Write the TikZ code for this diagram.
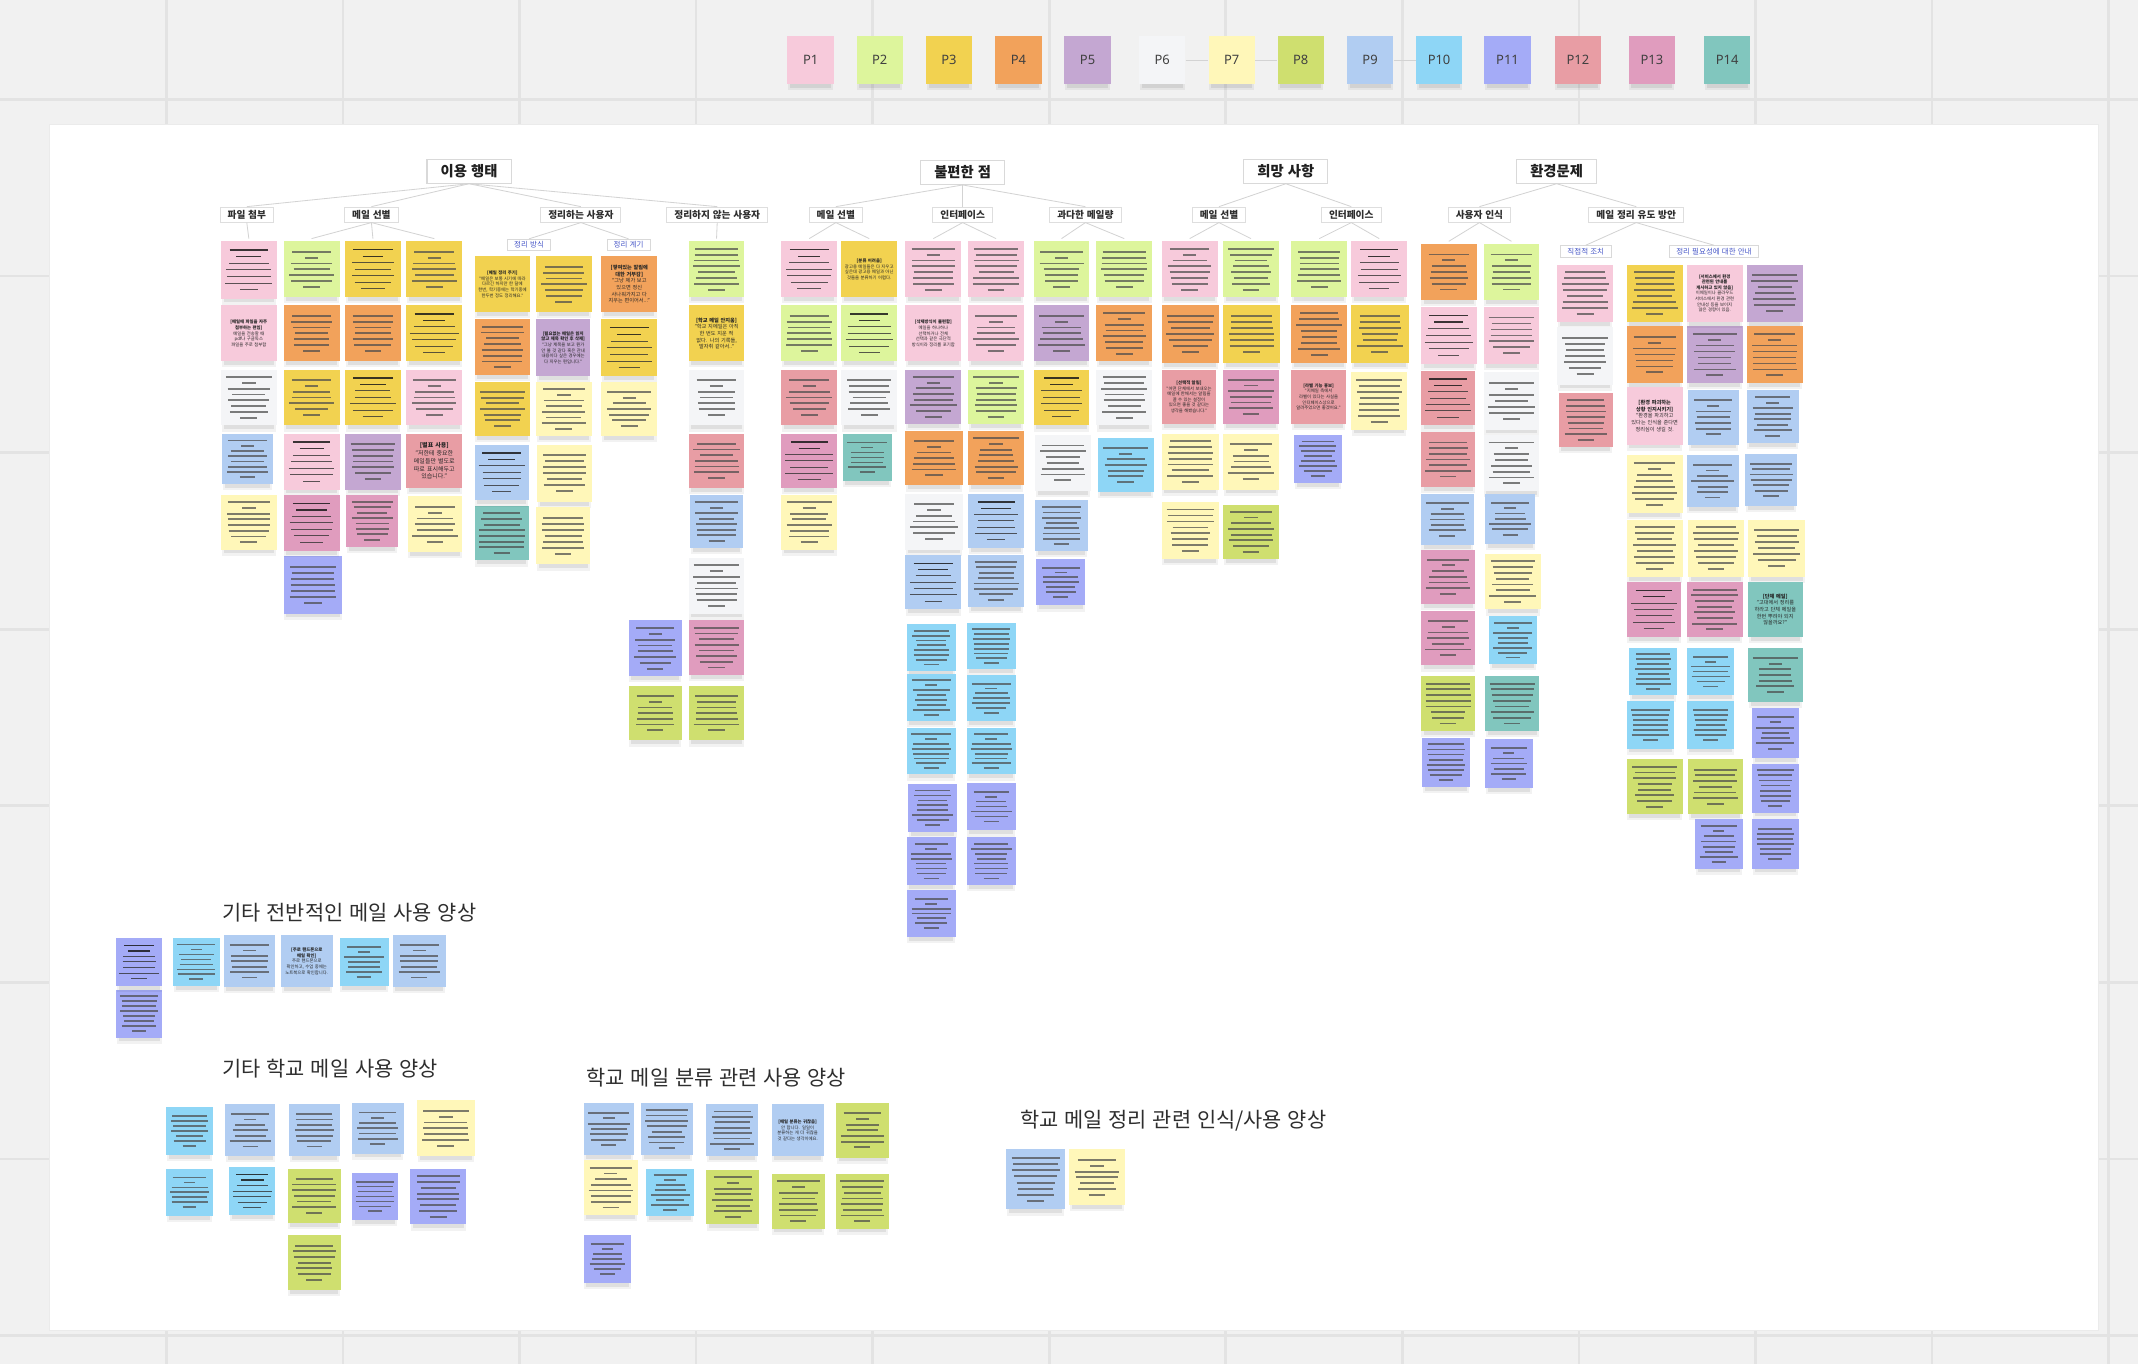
\documentclass[tikz,border=0pt]{standalone}
\usepackage{fontspec}
\setmainfont[WordSpace=1.25]{Noto Sans CJK KR}
\newfontfamily\latinsans{Noto Sans}
\usetikzlibrary{calc}

% canvas and sticky-note palette
\definecolor{boardbg}{HTML}{F1F1F1}
\definecolor{gridc}{HTML}{E3E3E3}
\definecolor{linkc}{HTML}{D3D3D3}
\definecolor{labelblue}{HTML}{4656C8}
\definecolor{c1}{HTML}{F7CADB}
\definecolor{c2}{HTML}{DDF59C}
\definecolor{c3}{HTML}{F2D250}
\definecolor{c4}{HTML}{F2A25B}
\definecolor{c5}{HTML}{C4A7D2}
\definecolor{c6}{HTML}{F4F5F7}
\definecolor{c7}{HTML}{FFF7B9}
\definecolor{c8}{HTML}{CFDF6F}
\definecolor{c9}{HTML}{B1CDF2}
\definecolor{c10}{HTML}{8ED6F6}
\definecolor{c11}{HTML}{A4ABF7}
\definecolor{c12}{HTML}{E89DA4}
\definecolor{c13}{HTML}{E09CBE}
\definecolor{c14}{HTML}{81C6BE}

\newcounter{notec}
\newcommand\notefontS{\fontsize{3.2}{4.1}\selectfont}
\newcommand\notefontM{\fontsize{3.8}{4.9}\selectfont}
\newcommand\notefontL{\fontsize{4.4}{5.8}\selectfont}

% soft shadow under a note: x y w h (top-left corner, size)
\newcommand\noteshadow[4]{%
  \fill[black,opacity=0.05] ({#1+0.5},{#2+#4-2}) rectangle ({#1+#3-0.5},{#2+#4+4.5});%
  \fill[black,opacity=0.08] ({#1+2},{#2+#4-1}) rectangle ({#1+#3-2},{#2+#4+2.8});%
}
% plain note body
\newcommand\notebase[5]{%
  \noteshadow{#1}{#2}{#3}{#4}%
  \stepcounter{notec}%
  \node[sticky, fill=#5, minimum width=#3pt, minimum height=#4pt] (note\arabic{notec}) at (#1,#2) {};%
}
% note with collapsed text shown as grey bars
\newcommand\barnote[5]{%
  \notebase{#1}{#2}{#3}{#4}{#5}%
  \pgfmathsetmacro\nlines{int(7+round(rnd))}%
  \pgfmathsetmacro\lgap{#4/9.6}%
  \foreach \i in {1,...,\nlines}{%
    \pgfmathsetmacro\rr{rnd}%
    \pgfmathsetmacro\ff{(\i==1) ? (0.68+0.15*\rr) : ((\i==\nlines) ? 0.3 : (((\i==2) && (\rr<0.45)) ? 0.24 : (0.58+0.26*\rr)))}%
    \pgfmathsetmacro\yy{#2+#4/2+(\i-(\nlines+1)/2)*\lgap}%
    \draw[barline] ({#1+#3/2-\ff*#3/2},\yy) -- ({#1+#3/2+\ff*#3/2},\yy);%
  }%
}
% note with fine print too small to read
\newcommand\fakenote[5]{%
  \notebase{#1}{#2}{#3}{#4}{#5}%
  \pgfmathsetmacro\lgap{#4/8.6}%
  \foreach \i in {1,...,7}{%
    \pgfmathsetmacro\rr{rnd}%
    \pgfmathsetmacro\ff{(\i==1) ? (0.62+0.1*\rr) : ((\i==2) ? (0.35+0.2*\rr) : ((\i==7) ? (0.3+0.15*\rr) : (0.62+0.25*\rr)))}%
    \pgfmathsetmacro\yy{#2+#4/2+(\i-4)*\lgap}%
    \ifnum\i<3
      \draw[titleline] ({#1+#3/2-\ff*#3/2},\yy) -- ({#1+#3/2+\ff*#3/2},\yy);%
    \else
      \draw[txtline] ({#1+#3/2-\ff*#3/2},\yy) -- ({#1+#3/2+\ff*#3/2},\yy);%
    \fi
  }%
}
% note with legible text
\newcommand\txtnote[7]{%
  \notebase{#1}{#2}{#3}{#4}{#5}%
  \pgfmathsetmacro\tw{#3-5}%
  \node[notetext, text width=\tw pt, font=#6] (notetext\arabic{notec}) at ({#1+#3/2},{#2+#4/2}) {#7};%
}

\begin{document}
\begin{tikzpicture}[x=1pt,y=-1pt,
  sticky/.style={inner sep=0pt, outer sep=0pt, anchor=north west, draw=none},
  barline/.style={line width=1.35pt, draw=black!70, opacity=0.72},
  txtline/.style={line width=0.7pt, draw=black!80, opacity=0.8},
  titleline/.style={line width=1.0pt, draw=black!90, opacity=0.85},
  notetext/.style={inner sep=0pt, align=center, text=black!85},
  gridline/.style={draw=gridc, line width=2pt},
  link/.style={draw=linkc, line width=0.6pt},
  mainhead/.style={draw=black!15, fill=white, line width=0.8pt, font=\bfseries\fontsize{10.5}{12}\selectfont, inner xsep=10pt, inner ysep=0pt, minimum height=17.5pt, text=black!88},
  subhead/.style={draw=black!13, fill=white, line width=0.7pt, font=\bfseries\fontsize{7.1}{8.5}\selectfont, inner xsep=5.5pt, inner ysep=0pt, minimum height=11pt, text=black!82},
  bluelabel/.style={draw=black!15, fill=white, line width=0.6pt, font=\fontsize{5.5}{6.5}\selectfont, inner xsep=5pt, inner ysep=0pt, minimum height=8.3pt, text=labelblue},
  secttitle/.style={font=\fontsize{15.3}{17}\selectfont, text=black!82, anchor=west, inner sep=0pt},
  legendnote/.style={inner sep=0pt, minimum width=34pt, minimum height=35pt, font=\latinsans\fontsize{9.5}{10}\selectfont, text=black!75}]
\pgfmathsetseed{11}
\useasboundingbox (0,0) rectangle (1568,1000);

% grey canvas with grid
\fill[boardbg] (0,0) rectangle (1568,1000);
\foreach \gx in {122,251.5,381,510.5,640,769.5,899,1028.5,1158,1287.5,1417,1546.5}
  \draw[gridline] (\gx,0) -- (\gx,1000);
\foreach \gy in {73,202.5,332,461.5,591,720.5,850,979.5}
  \draw[gridline] (0,\gy) -- (1568,\gy);

% white board
\fill[white] (36,91) rectangle (1539,976);
\draw[black!8, line width=0.6pt] (36,91) rectangle (1539,976);

% participant legend
\foreach \k/\cx in {1/594.5,2/645.2,3/696,4/746.9,5/797.6,6/852.4,7/903.3,8/953.9,9/1004.8,10/1055.4,11/1105.6,12/1157.2,13/1211.5,14/1266.7}{%
  \noteshadow{\cx-17}{26.5}{34}{35}%
  \node[legendnote, fill=c\k] (p\k) at (\cx,44) {P\k};%
}
\draw[link] (p6) -- (p7);
\draw[link] (p7) -- (p8);
\draw[link] (p9) -- (p10);

% headings
\node[mainhead] (h1) at (344,125.6) {이용 행태};
\node[mainhead] (h2) at (706,126.5) {불편한 점};
\node[mainhead] (h3) at (943,125.6) {희망 사항};
\node[mainhead] (h4) at (1141.6,125.6) {환경문제};

\node[subhead] (s11) at (181,157.4) {파일 첨부};
\node[subhead] (s12) at (272.4,157.4) {메일 선별};
\node[subhead] (s13) at (426,157.4) {정리하는 사용자};
\node[subhead] (s14) at (526,157.4) {정리하지 않는 사용자};
\node[subhead] (s21) at (613,157.4) {메일 선별};
\node[subhead] (s22) at (706,157.4) {인터페이스};
\node[subhead] (s23) at (796,157.4) {과다한 메일량};
\node[subhead] (s31) at (894,157.4) {메일 선별};
\node[subhead] (s32) at (991,157.4) {인터페이스};
\node[subhead] (s41) at (1085,157.4) {사용자 인식};
\node[subhead] (s42) at (1200,157.4) {메일 정리 유도 방안};

\node[bluelabel] (b131) at (388,179.6) {정리 방식};
\node[bluelabel] (b132) at (461,179.6) {정리 계기};
\node[bluelabel] (b421) at (1163,184.3) {직접적 조치};
\node[bluelabel] (b422) at (1257,184.3) {정리 필요성에 대한 안내};

% tops of the note columns
\coordinate (cA) at (182.5,175);
\coordinate (cB) at (228.5,175);
\coordinate (cC) at (273.5,175);
\coordinate (cD) at (318.5,175);
\coordinate (cH) at (525.5,175);
\coordinate (cI) at (593.5,175);
\coordinate (cJ) at (637.5,175);
\coordinate (cK) at (684.5,175);
\coordinate (cL) at (730.5,175);
\coordinate (cM) at (778.5,175);
\coordinate (cN) at (824.5,175);
\coordinate (cO) at (872.5,175);
\coordinate (cP) at (917.5,175);
\coordinate (cQ) at (967.5,175);
\coordinate (cR) at (1011.5,175);
\coordinate (cS) at (1062.5,177);
\coordinate (cT) at (1108.5,177);

% hierarchy links
\foreach \s in {s11,s12,s13,s14} \draw[link] (h1.south) -- (\s.north);
\foreach \s in {s21,s22,s23} \draw[link] (h2.south) -- (\s.north);
\foreach \s in {s31,s32} \draw[link] (h3.south) -- (\s.north);
\foreach \s in {s41,s42} \draw[link] (h4.south) -- (\s.north);
\draw[link] (s13.south) -- (b131.north);
\draw[link] (s13.south) -- (b132.north);
\draw[link] (s42.south) -- (b421.north);
\draw[link] (s42.south) -- (b422.north);
\draw[link] (s11.south) -- (cA);
\foreach \t in {cB,cC,cD} \draw[link] (s12.south) -- (\t);
\draw[link] (s14.south) -- (cH);
\foreach \t in {cI,cJ} \draw[link] (s21.south) -- (\t);
\foreach \t in {cK,cL} \draw[link] (s22.south) -- (\t);
\foreach \t in {cM,cN} \draw[link] (s23.south) -- (\t);
\foreach \t in {cO,cP} \draw[link] (s31.south) -- (\t);
\foreach \t in {cQ,cR} \draw[link] (s32.south) -- (\t);
\foreach \t in {cS,cT} \draw[link] (s41.south) -- (\t);

% collapsed notes
\foreach \nx/\ny/\nw/\nh/\nc in {%
162/271/41/41/c6,163/318/37/37/c9,162/363/41/40/c7,%
208/177/41/41/c2,208/224/41/41/c4,208/271/41/41/c3,208/408/43/42/c11,%
253/224/41/41/c4,253/318/41/41/c5,254/363/38/38/c13,%
298/177/41/41/c3,298/271/41/41/c1,299/364/40/41/c7,%
348/234/41/41/c4,348/280/41/40/c3,348/371/40/40/c14,%
393/188/41/41/c3,393/280/41/40/c7,394/326/40/42/c7,393/372/40/42/c7,%
441/280/41/40/c7,%
505/177/41/41/c2,505/271/41/41/c6,505/318/41/40/c12,506/363/39/39/c9,505/409/41/41/c6,505/455/41/40/c13,505/503/41/40/c8,%
461/455/39/41/c11,461/503/39/40/c8,%
573/224/41/41/c2,573/271/41/41/c12,573/363/41/40/c7,%
617/271/41/41/c6,618/318/36/35/c14,%
664/177/41/41/c1,664/271/41/40/c5,664/316/42/40/c4,664/362/42/41/c6,%
665/458/36/34/c10,665/494/36/35/c10,665/534/36/34/c10,666/575/36/35/c11,665/614/36/35/c11,665/653/36/34/c11,%
710/177/41/41/c1,710/224/41/41/c1,710/271/41/40/c2,710/316/41/40/c4,710/407/41/38/c9,%
709/457/36/34/c10,709/495/36/34/c10,709/534/36/34/c10,709/574/36/35/c11,709/614/36/35/c11,%
758/177/41/41/c2,758/224/41/41/c5,759/319/41/41/c6,759/367/39/37/c9,760/410/36/34/c11,%
804/177/41/41/c2,804/224/41/41/c4,804/271/41/41/c6,805/321/41/40/c10,%
852/177/41/41/c1,852/224/42/42/c4,852/318/42/41/c7,852/368/42/42/c7,%
897/177/41/41/c2,897/224/42/42/c3,897/271/41/40/c13,897/318/41/41/c7,897/370/41/40/c8,%
947/177/41/41/c2,947/224/41/42/c4,949/319/35/35/c11,%
991/224/42/42/c3,991/273/41/42/c7,%
1042/179/41/41/c4,1042/317/40/40/c12,1042/362/39/38/c9,1042/403/40/40/c13,1042/448/40/40/c13,1042/496/40/40/c8,1043/541/35/36/c11,%
1088/179/41/41/c2,1088/225/41/42/c1,1088/273/41/42/c6,1088/319/41/41/c6,1089/362/37/37/c9,1089/406/41/41/c7,1092/452/35/35/c10,1089/496/40/40/c14,1089/542/35/36/c11,%
1142/194/41/42/c1,1142/240/41/42/c6,1143/288/40/40/c12,%
1193/194/41/42/c3,1193/239/41/42/c4,1193/334/41/42/c7,1193/381/41/42/c7,1195/475/35/35/c10,1193/514/35/35/c10,1193/557/41/40/c8,%
1237/239/41/42/c5,1238/286/37/40/c9,1237/334/38/38/c9,1238/381/41/42/c7,1237/427/41/40/c13,1237/475/35/35/c10,1237/514/35/35/c10,1238/557/40/40/c8,1243/601/35/36/c11,%
1281/194/41/42/c5,1281/239/41/42/c4,1281/286/38/39/c9,1280/333/38/38/c9,1282/381/42/42/c7,1282/475/40/40/c14,1285/519/34/37/c11,1285/560/34/36/c11,1285/601/34/36/c11,%
127/688/34/35/c10,164/686/38/38/c9,249/688/36/35/c10,288/686/39/38/c9,85/726/34/35/c11,%
122/812/34/35/c10,165/810/37/38/c9,212/810/37/38/c9,258/809/38/37/c9,306/807/42/41/c7,%
122/857/34/35/c10,211/857/39/40/c8,258/860/34/35/c11,301/857/41/41/c11,211/906/39/40/c8,%
428/809/37/38/c9,470/809/38/38/c9,518/810/38/38/c9,613/809/39/40/c8,%
428/851/40/40/c7,474/857/35/35/c10,518/858/39/40/c8,566/861/39/40/c8,613/861/39/40/c8,428/906/35/35/c11,%
738/843/43/44/c9,784/843/41/41/c7%
}{\barnote{\nx}{\ny}{\nw}{\nh}{\nc}}

% notes with fine print
\foreach \nx/\ny/\nw/\nh/\nc in {%
162/177/41/42/c1,208/318/41/41/c1,208/363/41/41/c13,253/177/41/41/c3,253/271/41/41/c3,298/224/41/41/c3,%
348/326/40/41/c9,441/234/41/42/c3,573/177/41/41/c1,573/318/41/40/c13,617/224/41/41/c2,%
664/407/41/40/c9,710/362/41/40/c9,758/271/41/41/c3,991/177/41/41/c1,1042/225/41/42/c1,1042/272/40/40/c12,%
1193/427/40/40/c13,85/688/34/35/c11,168/856/34/35/c10%
}{\fakenote{\nx}{\ny}{\nw}{\nh}{\nc}}

% notes with legible text
\txtnote{162}{224}{41}{41}{c1}{\notefontS}{\textbf{[메일에 파일을 자주 첨부하는 편임]}\\메일을 전송할 때 pdf나 구글독스 파일을 주로 첨부함}
\txtnote{298}{318}{41}{40}{c12}{\notefontL}{\textbf{[별표 사용]}\\"저한테 중요한 메일들만 별도로 따로 표시해두고 있습니다."}
\txtnote{348}{188}{41}{41}{c3}{\notefontS}{\textbf{[메일 정리 주기]}\\"메일은 보통 시기에 따라 다르긴 하지만 한 달에 한번, 학기중에는 학기중에 한두번 정도 정리해요."}
\txtnote{393}{234}{40}{42}{c5}{\notefontS}{\textbf{[필요없는 메일은 읽지 않고 제목 확인 후 삭제]}\\"그냥 제목을 보고 뭔가 안 볼 것 같다 혹은 관내 내용이다 싶은 경우에는 다 지우는 편입니다."}
\txtnote{441}{188}{41}{41}{c4}{\notefontM}{\textbf{[쌓여있는 알림에 대한 거부감]}\\"그냥 제가 보고 있으면 정신 사나워가지고 다 지우는 편이어서..."}
\txtnote{505}{224}{41}{41}{c3}{\notefontM}{\textbf{[학교 메일 안지움]}\\"학교 지메일은 아직 한 번도 지운 적 없다. 나의 기록들, 발자취 같아서.."}
\txtnote{617}{177}{41}{41}{c3}{\notefontS}{\textbf{[분류 어려움]}\\광고용 메일들은 다 지우고 싶은데 광고용 메일과 아닌 것들을 분류하기 어렵다.}
\txtnote{664}{224}{41}{41}{c1}{\notefontS}{\textbf{[삭제방식이 불편함]}\\메일을 하나하나 선택하거나 전체 선택과 같은 극단적 방식이라 정리를 포기함}
\txtnote{852}{271}{40}{40}{c12}{\notefontS}{\textbf{[선택적 알림]}\\"어떤 단체에서 보내오는 메일에 한해서는 알림을 끌 수 있는 설정이 있으면 좋을 것 같다는 생각을 해봤습니다."}
\txtnote{947}{271}{40}{40}{c12}{\notefontS}{\textbf{[라벨 기능 홍보]}\\"지메일 측에서 라벨이 있다는 사실을 인터페이스상으로 알려주었으면 좋겠어요."}
\txtnote{1193}{284}{41}{42}{c1}{\notefontM}{\textbf{[환경 파괴하는 상황 인지시키기]}\\"환경을 파괴하고 있다는 인식을 준다면 정리심이 생길 것.}
\txtnote{1237}{194}{41}{42}{c1}{\notefontS}{\textbf{[서비스에서 환경 관련된 안내를 게시하고 있지 않음]}\\이메일이나 클라우드 서비스에서 환경 관련 안내성 등을 보이지 않은 경향이 있음.}
\txtnote{1282}{427}{40}{40}{c14}{\notefontM}{\textbf{[단체 메일]}\\"고대에서 정리를 하라고 단체 메일을 한번 뿌려야 되지 않을까요?"}
\txtnote{206}{686}{38}{38}{c9}{\notefontS}{\textbf{[주로 핸드폰으로 메일 확인]}\\주로 핸드폰으로 확인하고, 수업 중에는 노트북으로 확인합니다.}
\txtnote{566}{810}{38}{38}{c9}{\notefontS}{\textbf{[메일 분류는 귀찮음]}\\안 합니다. 일일이 분류하는 게 더 귀찮을 것 같다는 생각이에요.}

% loose groups at the bottom of the board
\node[secttitle] (g1) at (163,669) {기타 전반적인 메일 사용 양상};
\node[secttitle] (g2) at (163,784) {기타 학교 메일 사용 양상};
\node[secttitle] (g3) at (430,790) {학교 메일 분류 관련 사용 양상};
\node[secttitle] (g4) at (748,822) {학교 메일 정리 관련 인식/사용 양상};
\end{tikzpicture}
\end{document}
